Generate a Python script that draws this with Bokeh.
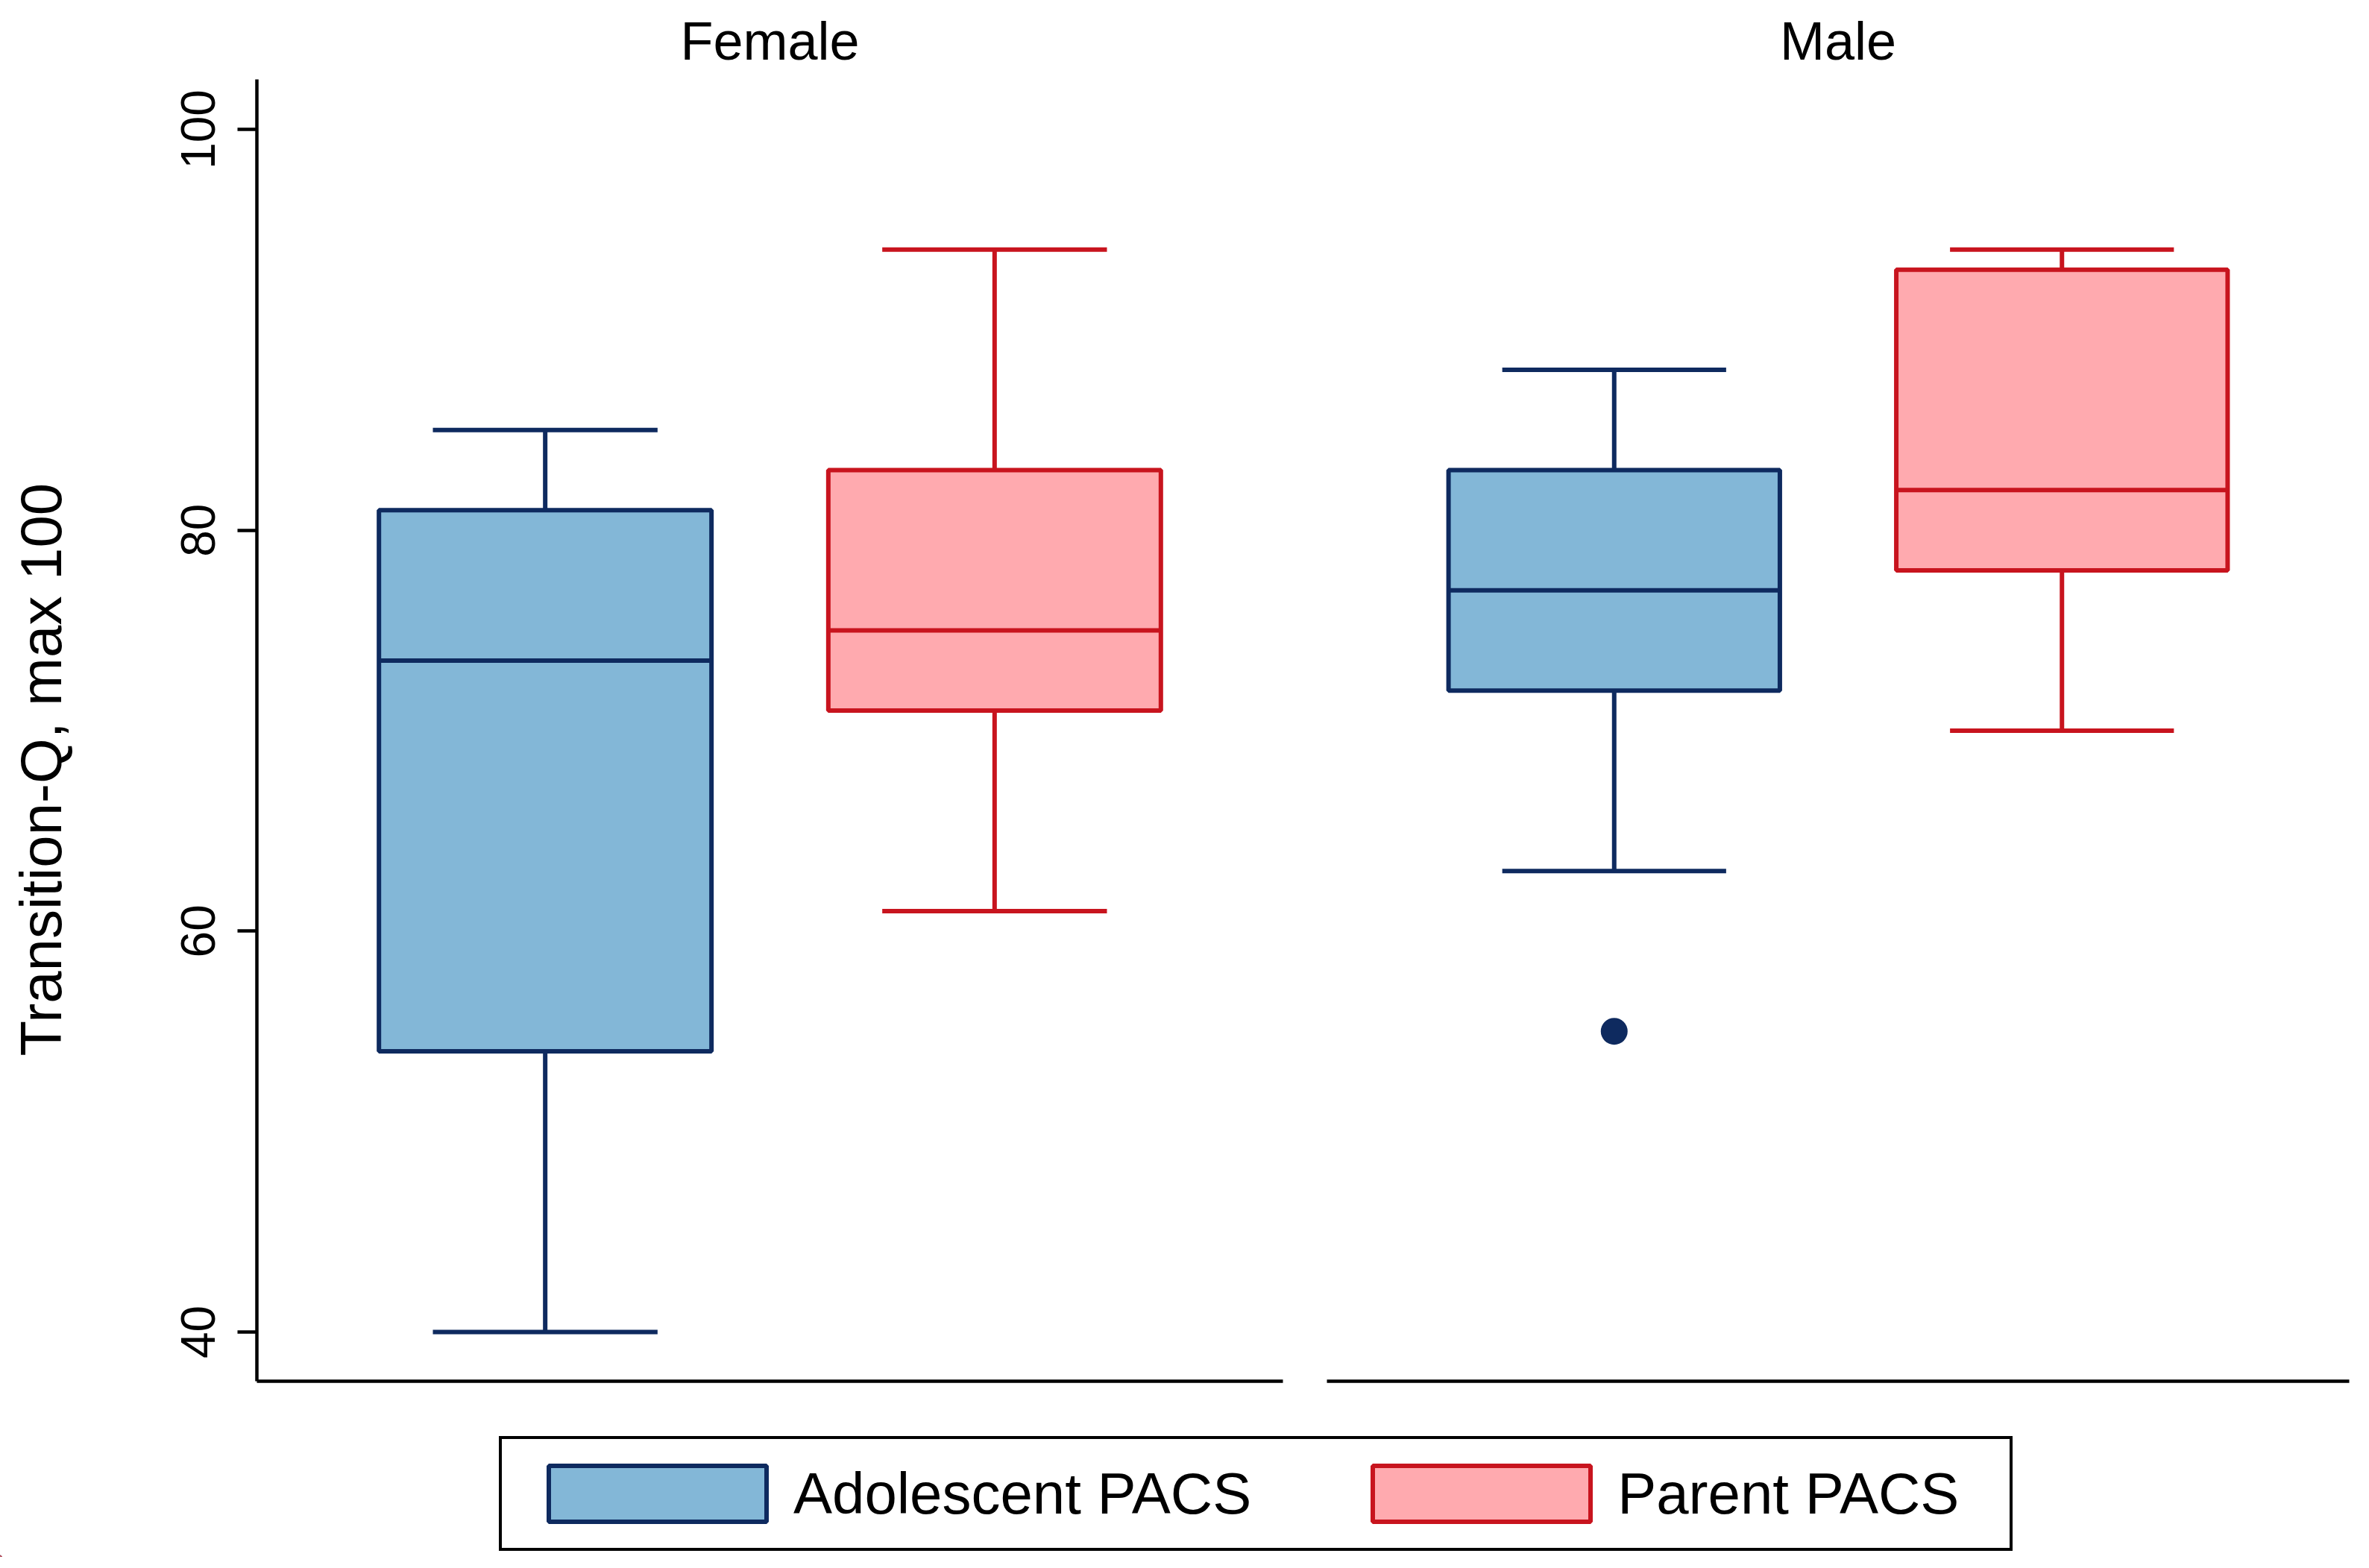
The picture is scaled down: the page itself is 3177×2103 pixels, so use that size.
import numpy as np
from bokeh.plotting import figure
from bokeh.models import (ColumnDataSource, Range1d, Legend, LegendItem, FixedTicker, Title)
from bokeh.layouts import column, row
from bokeh.embed import file_html
from bokeh.resources import INLINE

# ---------------- data ----------------
panels = ["Female", "Male"]
series = ["Adolescent PACS", "Parent PACS"]

female_lower_whisker = [40, 61]
female_q1 = [54, 71]
female_median = [73.5, 75]
female_q3 = [81, 83]
female_upper_whisker = [85, 94]

male_lower_whisker = [63, 70]
male_q1 = [72, 78]
male_median = [77, 82]
male_q3 = [83, 93]
male_upper_whisker = [88, 94]

female_outlier_series = []
female_outlier_values = []
male_outlier_series = ["Adolescent PACS"]
male_outlier_values = [55]

y_ticks = [40, 60, 80, 100]
y_label = "Transition-Q, max 100"

# ---------------- style ----------------
FONT = "Liberation Sans"
LINE_COLORS = ["#0E2A5F", "#C8141E"]
FILL_COLORS = ["#83B7D7", "#FFAAAF"]
BOX_W = 0.74
CAP_W = 0.5
LW = 6
ROW_H = 1888
TOP = 106
BOTTOM = 36

X_RANGE = (-0.1416, 2.1416)
Y_RANGE = (37.545, 102.49)


def make_panel(title, lw_, q1, med, q3, uw, out_s, out_v, show_y, width, bl, br):
    p = figure(width=width, height=ROW_H, output_backend="svg", toolbar_location=None,
               x_range=Range1d(*X_RANGE), y_range=Range1d(*Y_RANGE),
               y_axis_location="left" if show_y else None,
               min_border_left=bl, min_border_right=br, min_border_top=TOP,
               min_border_bottom=BOTTOM)
    p.outline_line_color = None
    p.xgrid.visible = False
    p.ygrid.visible = False
    p.background_fill_color = "white"

    p.title.text = title
    p.title.align = "center"
    p.title.vertical_align = "top"
    p.title.text_font = FONT
    p.title.text_font_size = "72px"
    p.title.text_font_style = "normal"
    p.title.text_color = "black"
    p.title.standoff = 20

    xs = np.arange(len(series)) + 0.5
    src = ColumnDataSource(dict(
        x=xs, lw=lw_, q1=q1, med=med, q3=q3, uw=uw,
        xl=xs - BOX_W / 2, xr=xs + BOX_W / 2,
        cl=xs - CAP_W / 2, cr=xs + CAP_W / 2,
        lc=LINE_COLORS, fc=FILL_COLORS))

    # whiskers
    p.segment(x0="x", y0="q3", x1="x", y1="uw", source=src, line_color="lc", line_width=LW)
    p.segment(x0="x", y0="q1", x1="x", y1="lw", source=src, line_color="lc", line_width=LW)
    p.segment(x0="cl", y0="uw", x1="cr", y1="uw", source=src, line_color="lc", line_width=LW)
    p.segment(x0="cl", y0="lw", x1="cr", y1="lw", source=src, line_color="lc", line_width=LW)
    # boxes
    p.vbar(x="x", bottom="q1", top="q3", width=BOX_W, source=src,
           fill_color="fc", line_color="lc", line_width=LW)
    # medians
    p.segment(x0="xl", y0="med", x1="xr", y1="med", source=src, line_color="lc", line_width=LW)

    # outliers
    if out_s:
        ox = [series.index(s) + 0.5 for s in out_s]
        oc = [LINE_COLORS[series.index(s)] for s in out_s]
        p.scatter(x=ox, y=out_v, size=36, marker="circle", fill_color=oc, line_color=None)

    # x axis: line only
    xa = p.xaxis[0]
    xa.ticker = FixedTicker(ticks=[])
    xa.major_tick_line_color = None
    xa.minor_tick_line_color = None
    xa.major_label_text_font_size = "0px"
    xa.axis_line_width = 4.5
    xa.axis_line_color = "black"

    if show_y:
        ya = p.yaxis[0]
        ya.ticker = FixedTicker(ticks=y_ticks)
        ya.minor_tick_line_color = None
        ya.major_tick_in = 0
        ya.major_tick_out = 26
        ya.major_tick_line_width = 4.5
        ya.axis_line_width = 4.5
        ya.axis_line_color = "black"
        ya.major_tick_line_color = "black"
        ya.major_label_orientation = "vertical"
        ya.major_label_text_font = FONT
        ya.major_label_text_font_size = "64px"
        ya.major_label_text_color = "black"
        ya.major_label_standoff = 30
    return p


# narrow strip that carries the y-axis title
LAB_W = 110
py = figure(width=LAB_W, height=ROW_H, output_backend="svg", toolbar_location=None,
            x_range=Range1d(0, 1), y_range=Range1d(*Y_RANGE),
            x_axis_location=None, y_axis_location=None,
            min_border_left=96, min_border_right=0, min_border_top=TOP,
            min_border_bottom=BOTTOM)
py.outline_line_color = None
py.xgrid.visible = False
py.ygrid.visible = False
py.add_layout(Title(text=y_label, align="left", offset=436, standoff=24,
                    text_font=FONT, text_font_size="78px", text_font_style="normal",
                    text_color="black"), "left")

pf = make_panel("Female", female_lower_whisker, female_q1, female_median, female_q3,
                female_upper_whisker, female_outlier_series, female_outlier_values,
                True, 1748 - LAB_W, 344 - LAB_W, 28)
pm = make_panel("Male", male_lower_whisker, male_q1, male_median, male_q3,
                male_upper_whisker, male_outlier_series, male_outlier_values,
                False, 1421, 31, 19)

# legend figure
pl = figure(width=3169, height=200, output_backend="svg", toolbar_location=None,
            x_range=Range1d(0, 1), y_range=Range1d(0, 1),
            x_axis_location=None, y_axis_location=None,
            min_border_left=0, min_border_right=0, min_border_top=0, min_border_bottom=0)
pl.outline_line_color = None
pl.xgrid.visible = False
pl.ygrid.visible = False
items = []
for i, s in enumerate(series):
    r = pl.vbar(x=[-10], bottom=[-10], top=[-9], width=0.1, fill_color=FILL_COLORS[i],
                line_color=LINE_COLORS[i], line_width=LW)
    items.append(LegendItem(label=s, renderers=[r]))
leg = Legend(items=items, orientation="horizontal", location=(669, 8),
             glyph_width=365, glyph_height=94, label_standoff=-12, spacing=126,
             label_width=500, padding=26, margin=0, label_text_font=FONT,
             label_text_font_size="78px", label_text_color="black",
             border_line_color="black", border_line_width=4, border_line_alpha=1,
             background_fill_color="white", background_fill_alpha=1)
pl.add_layout(leg, "center")

layout = column(row(py, pf, pm), pl)
open("out.html", "w").write(file_html(layout, INLINE))
